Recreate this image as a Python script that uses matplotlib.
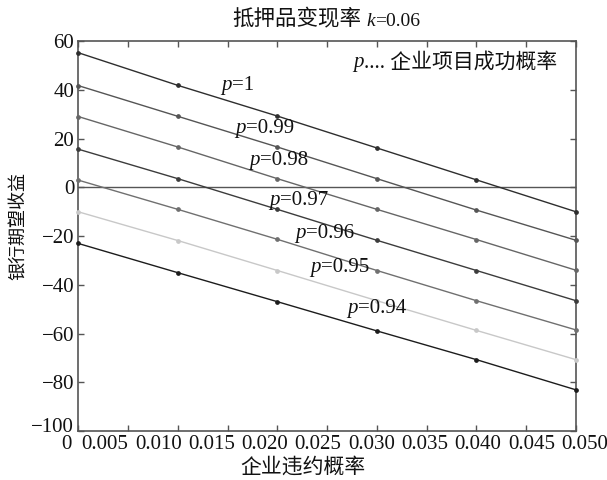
import matplotlib

matplotlib.use("Agg")

import matplotlib.pyplot as plt  # noqa: E402
from matplotlib.transforms import ScaledTranslation  # noqa: E402

plt.rcParams["font.family"] = ["Liberation Serif", "Noto Sans CJK SC"]
plt.rcParams["axes.unicode_minus"] = True

# default probability of the firm (x) and bank expected return (y) per success probability p
default_rate = [0.0, 0.01, 0.02, 0.03, 0.04, 0.05]
ret_p100 = [55.3, 41.9, 29.3, 16.2, 3.1, -10.0]
ret_p099 = [41.8, 29.2, 16.6, 3.6, -9.3, -21.7]
ret_p098 = [29.1, 16.6, 3.6, -9.0, -21.4, -34.0]
ret_p097 = [15.7, 3.6, -9.0, -21.7, -34.1, -46.5]
ret_p096 = [3.0, -9.0, -21.3, -34.1, -46.5, -58.5]
ret_p095 = [-10.0, -21.8, -34.1, -46.5, -58.7, -70.7]
ret_p094 = [-23.0, -35.0, -46.9, -58.9, -70.7, -83.1]

p_values = ["1", "0.99", "0.98", "0.97", "0.96", "0.95", "0.94"]
series = [ret_p100, ret_p099, ret_p098, ret_p097, ret_p096, ret_p095, ret_p094]

x_ticks = [0, 0.005, 0.010, 0.015, 0.020, 0.025, 0.030, 0.035, 0.040, 0.045, 0.050]
x_tick_labels = ["0", "0.005", "0.010", "0.015", "0.020", "0.025",
                 "0.030", "0.035", "0.040", "0.045", "0.050"]
y_ticks = [-100, -80, -60, -40, -20, 0, 20, 40, 60]

LINE_COLORS = ["#2e2e2e", "#555555", "#666666", "#3c3c3c", "#707070", "#c8c8c8", "#1c1c1c"]
# where each "p=..." label starts (data coords)
LABEL_POS = [(0.0144, 42.0), (0.0158, 24.3), (0.0172, 11.2), (0.0192, -5.3),
             (0.0218, -18.9), (0.0233, -32.9), (0.0270, -49.8)]
# x tick labels sit packed side by side rather than centred on the ticks
X_LABEL_SHIFT_PX = [-11.5, -23, -19.5, -16, -12.5, -9, -5.5, -2, 1.5, 5, 8.5]

FS = 15
SPINE = "#555555"
INK = "#111111"


def chained_text(ax, x, y, first, rest, xycoords="data", **kw):
    """Italic symbol followed by upright text, baseline-aligned."""
    t = ax.annotate(first, xy=(x, y), xycoords=xycoords, ha="left", va="center",
                    style="italic", fontsize=FS, **kw)
    ax.annotate(rest, xy=(1, 0), xycoords=t, ha="left", va="bottom", fontsize=FS, **kw)
    return t


fig = plt.figure(figsize=(6.07, 4.80), dpi=100)
ax = fig.add_axes([0.129, 0.102, 0.820, 0.812])

ax.axhline(0, color="#555555", linewidth=1.0, zorder=1)

for vals, color in zip(series, LINE_COLORS):
    ax.plot(default_rate, vals, color=color, linewidth=1.0, marker="o",
            markersize=2.4, clip_on=False, zorder=3)

for (lx, ly), pv in zip(LABEL_POS, p_values):
    chained_text(ax, lx, ly, "p", "=" + pv, color=INK)

# legend-like note in the upper right
chained_text(ax, 0.0276, 51.1, "p", ".... 企业项目成功概率", color=INK)

ax.set_xlim(0, 0.05)
ax.set_ylim(-100, 60)
ax.set_xticks(x_ticks)
ax.set_xticklabels(x_tick_labels)
ax.set_yticks(y_ticks)
ax.tick_params(direction="in", length=4, width=1, color=SPINE, labelsize=FS,
               labelcolor=INK, top=True, right=True, pad=3)
for spine in ax.spines.values():
    spine.set_color(SPINE)
    spine.set_linewidth(1.2)

for lbl, dx in zip(ax.get_xticklabels(), X_LABEL_SHIFT_PX):
    lbl.set_transform(lbl.get_transform() + ScaledTranslation(dx / 100, 0, fig.dpi_scale_trans))
# lift the bottom y label a little so it clears the x-axis "0"
bottom_ylabel = ax.get_yticklabels()[0]
bottom_ylabel.set_transform(bottom_ylabel.get_transform()
                            + ScaledTranslation(0, 6 / 100, fig.dpi_scale_trans))

ax.set_xlabel("企业违约概率", fontsize=FS, color=INK)
ax.xaxis.set_label_coords(0.452, -0.068)
ax.set_ylabel("银行期望收益", fontsize=13, color=INK)
ax.yaxis.set_label_coords(-0.102, 0.526)

# title: 抵押品变现率 k=0.06
k = ax.annotate("k", xy=(0.579, 1.0), xycoords="axes fraction", xytext=(0, 8),
                textcoords="offset points", ha="left", va="bottom", style="italic",
                fontsize=14, color=INK)
ax.annotate("抵押品变现率", xy=(0, 0), xycoords=k, xytext=(-4, 0), textcoords="offset points",
            ha="right", va="bottom", fontsize=15.5, color=INK)
ax.annotate("=0.06", xy=(1, 0), xycoords=k, ha="left", va="bottom", fontsize=14, color=INK)

fig.savefig("out.png", dpi=100)
plt.close(fig)
